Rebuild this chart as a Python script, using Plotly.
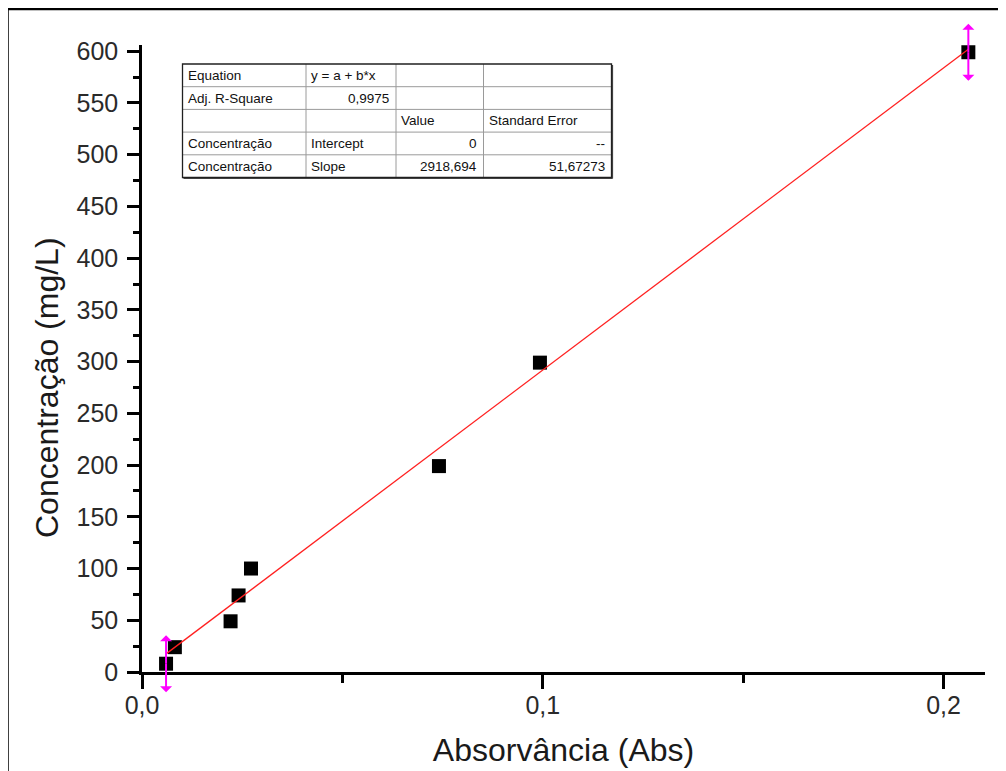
import plotly.graph_objects as go

# ---------------- data ----------------
absorbance = [0.0060, 0.0082, 0.0221, 0.0241, 0.0272, 0.0741, 0.0993, 0.2062]
concentration = [8, 24, 49, 74, 100, 199, 299, 599]
fit_intercept = 0.0
fit_slope = 2918.694

x_title = "Absorvância (Abs)"
y_title = "Concentração (mg/L)"

table_col1 = ["Equation", "Adj. R-Square", "", "Concentração", "Concentração"]
table_col2 = ["y = a + b*x", "0,9975", "", "Intercept", "Slope"]
table_col3 = ["", "", "Value", "0", "2918,694"]
table_col4 = ["", "", "Standard Error", "--", "51,67273"]

# ---------------- geometry helpers ----------------
# the page body adds an 8px margin, so the figure is drawn 8px smaller
OFF = 8
W, H = 1006 - OFF, 771 - OFF
# target plot area in window pixels: x 142..985, y 45..672
ML = 142 - OFF
MT = 45 - OFF
MR = 1006 - 985
MB = 771 - 672
PW, PH = W - ML - MR, H - MT - MB


def px(xw):
    return (xw - OFF - ML) / PW


def py(yw):
    return (H - MB - (yw - OFF)) / PH


fig = go.Figure()

fig.add_trace(go.Scatter(
    x=absorbance, y=concentration, mode="markers",
    marker=dict(symbol="square", size=14, color="black", line=dict(width=0)),
    showlegend=False, cliponaxis=False,
))

x_fit = [min(absorbance), max(absorbance)]
y_fit = [fit_intercept + fit_slope * v for v in x_fit]
fig.add_trace(go.Scatter(
    x=x_fit, y=y_fit, mode="lines",
    line=dict(color="#ff2020", width=1.3),
    showlegend=False, cliponaxis=False,
))

annotations = []
# magenta double arrows at the ends of the data range
for xi, yi in [(absorbance[0], concentration[0]), (absorbance[-1], concentration[-1])]:
    for ay in (-30, 30):
        annotations.append(dict(
            x=xi, y=yi, xref="x", yref="y", text="", showarrow=True,
            ax=0, ay=ay, arrowside="start", arrowhead=2, arrowsize=2.3,
            arrowwidth=2, arrowcolor="#ff00ff", standoff=0, startstandoff=0,
        ))

shapes = []
# outer frame (left & top)
shapes.append(dict(type="line", xref="paper", yref="paper",
                   x0=px(7.5), x1=px(7.5), y0=py(9), y1=py(775),
                   line=dict(color="black", width=2.5)))
shapes.append(dict(type="line", xref="paper", yref="paper",
                   x0=px(6.3), x1=px(1010), y0=py(9), y1=py(9),
                   line=dict(color="black", width=2.5)))

# ---------------- fit results table ----------------
col_edges = [182.5, 306, 396, 483.5, 611.5]
top, bottom = 64, 177.5
nrows = 5
rh = (bottom - top) / nrows
row_edges = [top + i * rh for i in range(nrows + 1)]

for xe in col_edges[1:-1]:
    shapes.append(dict(type="line", xref="paper", yref="paper",
                       x0=px(xe), x1=px(xe), y0=py(top), y1=py(bottom),
                       line=dict(color="#9a9a9a", width=1)))
for ye in row_edges[1:-1]:
    shapes.append(dict(type="line", xref="paper", yref="paper",
                       x0=px(col_edges[0]), x1=px(col_edges[-1]), y0=py(ye), y1=py(ye),
                       line=dict(color="#9a9a9a", width=1)))
shapes.append(dict(type="rect", xref="paper", yref="paper",
                   x0=px(col_edges[0]), x1=px(col_edges[-1]), y0=py(bottom), y1=py(top),
                   line=dict(color="#202020", width=1.3)))
# slight shadow on right / bottom edges
shapes.append(dict(type="line", xref="paper", yref="paper",
                   x0=px(col_edges[-1] + 1), x1=px(col_edges[-1] + 1), y0=py(top + 1), y1=py(bottom + 1),
                   line=dict(color="#404040", width=1.2)))
shapes.append(dict(type="line", xref="paper", yref="paper",
                   x0=px(col_edges[0] + 1), x1=px(col_edges[-1] + 1), y0=py(bottom + 1), y1=py(bottom + 1),
                   line=dict(color="#404040", width=1.2)))

numeric_like = set(["0,9975", "0", "--", "2918,694", "51,67273"])
columns = [table_col1, table_col2, table_col3, table_col4]
for ci, col in enumerate(columns):
    for ri, txt in enumerate(col):
        if not txt:
            continue
        yc = (row_edges[ri] + row_edges[ri + 1]) / 2
        if txt in numeric_like:
            xa, anchor = col_edges[ci + 1] - 5, "right"
        else:
            xa, anchor = col_edges[ci] + 3, "left"
        annotations.append(dict(
            x=px(xa), y=py(yc), xref="paper", yref="paper", text=txt,
            showarrow=False, xanchor=anchor, yanchor="middle",
            font=dict(family="Liberation Sans, Arial, sans-serif", size=13.5, color="#111111"),
        ))

axis_font = dict(family="Liberation Sans, Arial, sans-serif", size=25, color="#2a2a2a")
title_font = dict(family="Liberation Sans, Arial, sans-serif", size=32, color="#1a1a1a")

# y axis title (placed as a rotated annotation, sitting a bit below the axis centre)
annotations.append(dict(
    x=px(47), y=py(388), xref="paper", yref="paper", text=y_title,
    textangle=-90, showarrow=False, xanchor="center", yanchor="middle",
    font=title_font,
))

fig.update_layout(
    width=W, height=H,
    margin=dict(l=ML, r=MR, t=MT, b=MB, pad=0),
    paper_bgcolor="white", plot_bgcolor="white",
    separators=",.",
    shapes=shapes, annotations=annotations,
    xaxis=dict(
        range=[0, PW / 4007.5], showgrid=False, zeroline=False,
        showline=True, linecolor="black", linewidth=2.5,
        ticks="outside", ticklen=14, tickwidth=2.5, tickcolor="black",
        tick0=0, dtick=0.1, tickformat=".1f",
        minor=dict(ticks="outside", ticklen=8, tickwidth=2.5, tickcolor="black", dtick=0.05, showgrid=False),
        tickfont=axis_font, ticklabelstandoff=-5,
        title=dict(text=x_title, font=title_font, standoff=21),
        automargin=False,
    ),
    yaxis=dict(
        range=[0, 606], showgrid=False, zeroline=False,
        showline=True, linecolor="black", linewidth=2.5,
        ticks="outside", ticklen=12, tickwidth=2.5, tickcolor="black",
        tick0=0, dtick=50,
        minor=dict(ticks="outside", ticklen=6, tickwidth=2.5, tickcolor="black", dtick=25, showgrid=False),
        tickfont=axis_font, ticklabelstandoff=4,
        automargin=False,
    ),
)

fig.write_html("out.html")
